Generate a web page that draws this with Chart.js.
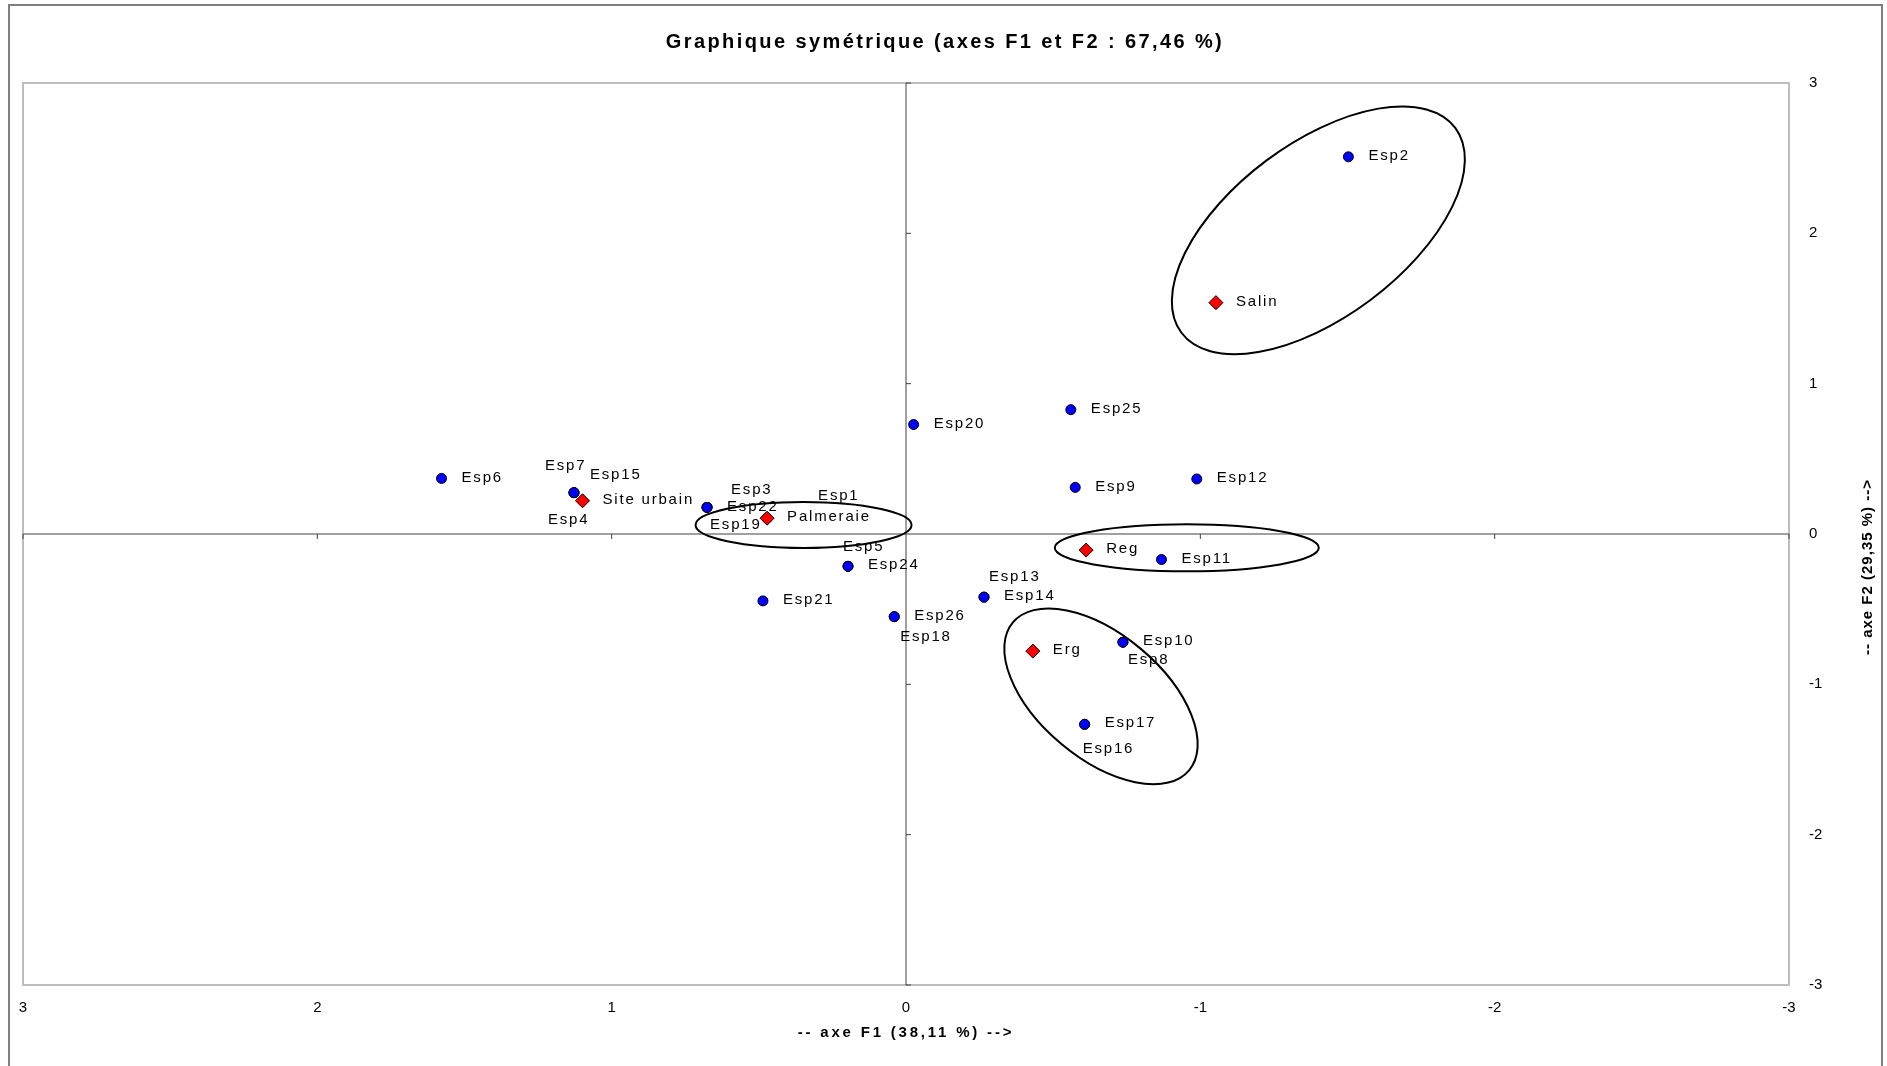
<!DOCTYPE html>
<html>
<head>
<meta charset="utf-8">
<script src="https://cdn.jsdelivr.net/npm/chart.js@4.4.1/dist/chart.umd.min.js"></script>
<style>
  html,body{margin:0;padding:0;background:#fff;}
  #wrap{width:1887px;height:1066px;}
</style>
</head>
<body>
<div id="wrap"><canvas id="afc" width="1887" height="1066"></canvas></div>
<script>
// valeurs (F1, F2)
const speciesNames = ["Esp1","Esp2","Esp3","Esp4","Esp5","Esp6","Esp7","Esp8","Esp9","Esp10","Esp11","Esp12","Esp13",
  "Esp14","Esp15","Esp16","Esp17","Esp18","Esp19","Esp20","Esp21","Esp22","Esp24","Esp25","Esp26"];
const speciesF1 = [0.472,-1.503,0.676,1.128,0.197,1.578,1.128,-0.737,-0.575,-0.737,-0.868,-0.988,-0.265,
  -0.265,1.128,-0.607,-0.607,0.040,0.676,-0.026,0.486,0.676,0.197,-0.560,0.040];
const speciesF2 = [0.105,2.509,0.177,0.275,-0.215,0.370,0.275,-0.720,0.310,-0.720,-0.170,0.366,-0.420,
  -0.420,0.275,-1.266,-1.266,-0.550,0.177,0.728,-0.445,0.177,-0.215,0.827,-0.550];

const siteNames = ["Salin","Site urbain","Palmeraie","Reg","Erg"];
const siteF1 = [-1.053,1.099,0.472,-0.612,-0.431];
const siteF2 = [1.539,0.221,0.105,-0.107,-0.779];

const tickValues = [-3,-2,-1,0,1,2,3];

// décalage des étiquettes qui se chevauchent (px)
const labelShift = {
  Esp7:[-29,-27], Esp15:[16,-18], Esp4:[-26,27], Esp3:[24,-18], Esp19:[3,17], Esp1:[51,-22],
  Esp5:[-5,-19], Esp13:[5,-20], Esp18:[6,20], Esp8:[5,18], Esp16:[-2,25]
};

// ellipses de regroupement : centre (F1,F2), demi-axes px, rotation deg
const groups = [
  {f1:-1.401, f2:2.02, a:171, b:87, rot:-36.8},
  {f1:0.348, f2:0.06, a:108, b:23, rot:0},
  {f1:-0.954, f2:-0.092, a:132, b:23.5, rot:0},
  {f1:-0.6625, f2:-1.08, a:115, b:62, rot:40}
];

const FONT = "'Liberation Sans', Arial, sans-serif";

const decor = {
  id:'decor',
  beforeDraw(chart){
    const c = chart.ctx, a = chart.chartArea;
    c.save();
    c.strokeStyle = '#808080'; c.lineWidth = 2;
    c.strokeRect(9, 5, 1873, 1100);
    c.strokeStyle = '#BDBDBD'; c.lineWidth = 2;
    c.strokeRect(a.left, a.top, a.right - a.left, a.bottom - a.top);
    c.restore();
  },
  beforeDatasetsDraw(chart){
    const c = chart.ctx, a = chart.chartArea, sx = chart.scales.x, sy = chart.scales.y;
    const x0 = sx.getPixelForValue(0), y0 = sy.getPixelForValue(0);
    c.save();
    c.strokeStyle = '#808080'; c.lineWidth = 1.5;
    c.beginPath(); c.moveTo(a.left, y0); c.lineTo(a.right, y0); c.stroke();
    c.strokeStyle = '#404040'; c.lineWidth = 1;
    c.beginPath(); c.moveTo(x0, a.top); c.lineTo(x0, a.bottom); c.stroke();
    tickValues.forEach(v => {
      if(v===0) return;
      const px = sx.getPixelForValue(v), py = sy.getPixelForValue(v);
      c.beginPath(); c.moveTo(px, y0); c.lineTo(px, y0 + 5); c.stroke();
      c.beginPath(); c.moveTo(x0, py); c.lineTo(x0 + 5, py); c.stroke();
    });
    c.restore();
  },
  afterDatasetsDraw(chart){
    const c = chart.ctx, sx = chart.scales.x, sy = chart.scales.y;
    c.save();
    c.font = "15px " + FONT; c.fillStyle = '#000'; c.textBaseline = 'middle'; c.textAlign = 'left';
    c.letterSpacing = '1.8px';
    chart.data.datasets.forEach((ds, di) => {
      chart.getDatasetMeta(di).data.forEach((pt, i) => {
        const name = ds.names[i];
        const s = labelShift[name] || [20, -1];
        c.fillText(name, pt.x + s[0], pt.y + s[1]);
      });
    });
    // ellipses
    c.strokeStyle = '#000'; c.lineWidth = 2;
    groups.forEach(g => {
      c.beginPath();
      c.ellipse(sx.getPixelForValue(g.f1), sy.getPixelForValue(g.f2), g.a, g.b, g.rot*Math.PI/180, 0, Math.PI*2);
      c.stroke();
    });
    // titres
    c.textAlign = 'center';
    c.font = "bold 20px " + FONT; c.letterSpacing = '2.4px';
    c.fillText("Graphique symétrique (axes F1 et F2 : 67,46 %)", 945, 42);
    c.font = "bold 15px " + FONT; c.letterSpacing = '2.8px';
    c.fillText("-- axe F1 (38,11 %) -->", 906, 1033);
    c.letterSpacing = '1px';
    c.translate(1868, 567); c.rotate(-Math.PI/2);
    c.fillText("-- axe F2 (29,35 %) -->", 0, 0);
    c.restore();
  }
};

const sites = siteNames.map((n,i) => ({x:siteF1[i], y:siteF2[i]}));
const species = speciesNames.map((n,i) => ({x:speciesF1[i], y:speciesF2[i]}));

new Chart(document.getElementById('afc').getContext('2d'), {
  type:'scatter',
  data:{ datasets:[
    { label:'Sites', names:siteNames, data:sites, pointStyle:'rectRot', pointRadius:7,
      backgroundColor:'#FF0000', borderColor:'#000', borderWidth:1 },
    { label:'Espèces', names:speciesNames, data:species, pointStyle:'circle', pointRadius:5,
      backgroundColor:'#0000FF', borderColor:'#000', borderWidth:1 }
  ]},
  options:{
    responsive:false, animation:false, devicePixelRatio:1,
    layout:{ padding:{ left:23, top:83, right:38, bottom:41 } },
    plugins:{ legend:{display:false}, tooltip:{enabled:false} },
    scales:{
      x:{ type:'linear', min:-3, max:3, reverse:true, position:'bottom',
        grid:{display:false, drawTicks:false}, border:{display:false},
        afterBuildTicks: s => { s.ticks = tickValues.map(v => ({value:v})); },
        afterFit: s => { s.height = 40; },
        ticks:{ color:'#000', padding:14, font:{family:FONT, size:15} } },
      y:{ type:'linear', min:-3, max:3, position:'right',
        grid:{display:false, drawTicks:false}, border:{display:false},
        afterBuildTicks: s => { s.ticks = tickValues.map(v => ({value:v})); },
        afterFit: s => { s.width = 60; },
        ticks:{ color:'#000', padding:20, font:{family:FONT, size:15} } }
    }
  },
  plugins:[decor]
});
</script>
</body>
</html>
